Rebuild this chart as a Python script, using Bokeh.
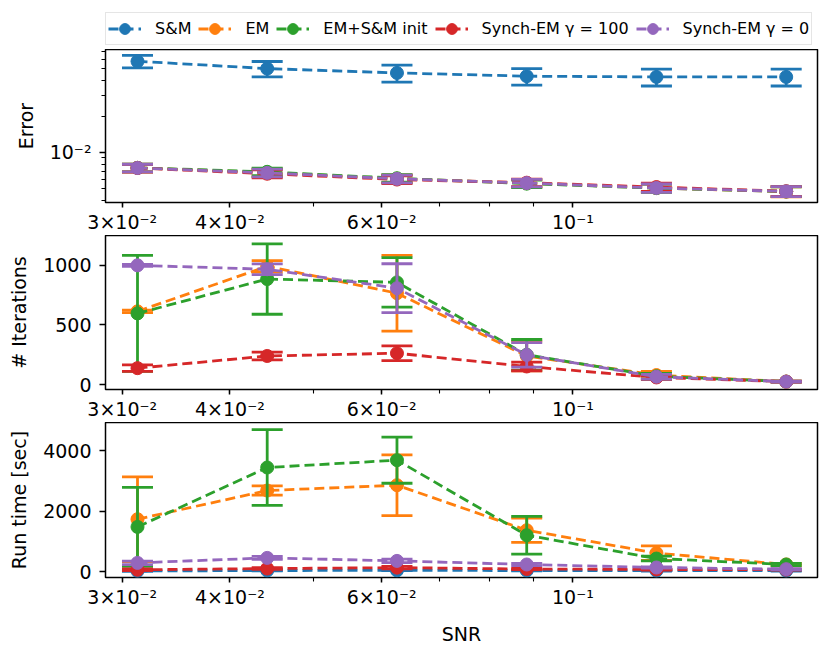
from bokeh.plotting import figure
from bokeh.models import Range1d, FixedTicker, Legend, LegendItem, ColumnDataSource
from bokeh.layouts import column
from bokeh.embed import file_html
from bokeh.resources import INLINE

# ---------------- data ----------------
snr = [0.03125, 0.04419, 0.0625, 0.08839, 0.125, 0.17678]

series_names = ["S&M", "EM", "EM+S&M init", "Synch-EM γ = 100", "Synch-EM γ = 0"]
series_colors = ["#1f77b4", "#ff7f0e", "#2ca02c", "#d62728", "#9467bd"]

# Error panel (log scale)
error_sm = [0.0575, 0.0500, 0.0460, 0.0432, 0.0426, 0.0426]
error_sm_std = [0.0069, 0.0073, 0.0074, 0.0068, 0.0068, 0.0068]
error_em = [0.00745, 0.00680, 0.00605, 0.00555, 0.00505, 0.00472]
error_em_std = [0.00055, 0.00050, 0.00045, 0.00040, 0.00040, 0.00045]
error_emsm = [0.00745, 0.00690, 0.00610, 0.00550, 0.00505, 0.00473]
error_emsm_std = [0.00055, 0.00050, 0.00045, 0.00040, 0.00040, 0.00045]
error_sy100 = [0.00742, 0.00665, 0.00595, 0.00560, 0.00515, 0.00475]
error_sy100_std = [0.00055, 0.00050, 0.00045, 0.00040, 0.00040, 0.00045]
error_sy0 = [0.00743, 0.00676, 0.00603, 0.00556, 0.00506, 0.00474]
error_sy0_std = [0.00055, 0.00050, 0.00045, 0.00040, 0.00040, 0.00045]

# Iterations panel
iter_em = [614, 992, 766, 240, 80, 25]
iter_em_std = [10, 48, 318, 125, 30, 5]
iter_emsm = [597, 885, 857, 250, 70, 25]
iter_emsm_std = [486, 295, 208, 128, 25, 5]
iter_sy100 = [138, 240, 263, 152, 60, 25]
iter_sy100_std = [27, 33, 62, 36, 15, 5]
iter_sy0 = [1000, 967, 808, 249, 66, 25]
iter_sy0_std = [8, 45, 205, 103, 20, 5]

# Run time panel
time_sm = [30, 45, 50, 45, 40, 40]
time_sm_std = [10, 10, 10, 10, 10, 10]
time_em = [1737, 2683, 2858, 1374, 620, 244]
time_em_std = [1395, 155, 1000, 400, 240, 40]
time_emsm = [1484, 3442, 3683, 1209, 440, 244]
time_emsm_std = [1300, 1250, 760, 620, 80, 40]
time_sy100 = [70, 110, 140, 95, 80, 75]
time_sy100_std = [30, 30, 40, 20, 20, 15]
time_sy0 = [297, 462, 363, 244, 145, 89]
time_sy0_std = [60, 50, 60, 40, 20, 15]

x_ticks = [0.03, 0.04, 0.06, 0.1]
x_tick_labels = ["3×10⁻²", "4×10⁻²", "6×10⁻²", "10⁻¹"]
x_minor = [0.03, 0.04, 0.05, 0.06, 0.07, 0.08, 0.09, 0.1]

err_ticks = [0.01]
err_tick_labels = ["10⁻²"]
err_minor = [0.004, 0.005, 0.006, 0.007, 0.008, 0.009, 0.01, 0.02, 0.03, 0.04, 0.05, 0.06, 0.07]
iter_ticks = [0, 500, 1000]
time_ticks = [0, 2000, 4000]

FONT = "DejaVu Sans"
LW = 2.8
DASH = "10 5"


def style(p, ylabel, show_xlabel=False):
    p.xgrid.visible = False
    p.ygrid.visible = False
    p.outline_line_color = "black"
    p.outline_line_width = 1.5
    p.background_fill_color = "white"
    p.border_fill_color = "white"
    for ax in (p.xaxis[0], p.yaxis[0]):
        ax.axis_line_color = None
        ax.major_tick_line_color = "black"
        ax.major_tick_line_width = 1.5
        ax.minor_tick_line_color = "black"
        ax.minor_tick_line_width = 1.1
        ax.major_tick_in = 0
        ax.major_tick_out = 6
        ax.minor_tick_in = 0
        ax.minor_tick_out = 4
        ax.major_label_text_font = FONT
        ax.major_label_text_font_size = "19px"
        ax.major_label_text_color = "black"
        ax.axis_label_text_font = FONT
        ax.axis_label_text_font_size = "19px"
        ax.axis_label_text_font_style = "normal"
        ax.axis_label_text_color = "black"
    p.xaxis[0].ticker = FixedTicker(ticks=x_ticks, minor_ticks=x_minor)
    p.xaxis[0].major_label_overrides = {t: l for t, l in zip(x_ticks, x_tick_labels)}
    p.xaxis[0].major_label_standoff = 3
    p.xaxis[0].major_tick_out = 5
    p.yaxis[0].major_label_standoff = 8
    p.yaxis[0].axis_label = ylabel
    p.yaxis[0].axis_label_standoff = 10
    if show_xlabel:
        p.xaxis[0].axis_label = "SNR"
        p.xaxis[0].axis_label_standoff = 12


def add_series(p, y, e, color):
    lo = [a - b for a, b in zip(y, e)]
    hi = [a + b for a, b in zip(y, e)]
    src = ColumnDataSource(dict(x=snr, y=y, lo=lo, hi=hi))
    p.segment(x0="x", y0="lo", x1="x", y1="hi", source=src, line_color=color, line_width=LW)
    p.scatter("x", "lo", source=src, marker="dash", size=31, line_color=color, line_width=LW)
    p.scatter("x", "hi", source=src, marker="dash", size=31, line_color=color, line_width=LW)
    p.line("x", "y", source=src, line_color=color, line_width=LW, line_dash=DASH)
    p.scatter("x", "y", source=src, size=13, fill_color=color, line_color=color)


x_range = Range1d(0.02869, 0.1922)

FRAME_W = 712
LEFT = 105
RIGHT = 4
common = dict(width=LEFT + FRAME_W + RIGHT, min_border_left=LEFT, min_border_right=RIGHT,
              sizing_mode="fixed", output_backend="svg", toolbar_location=None)

error_data = [(error_sm, error_sm_std), (error_em, error_em_std), (error_emsm, error_emsm_std),
              (error_sy100, error_sy100_std), (error_sy0, error_sy0_std)]

# ---- legend strip (hidden copies of the series provide the legend glyphs) ----
p0 = figure(height=49, min_border_top=0, min_border_bottom=0,
            x_axis_type="log", y_axis_type="log", x_range=x_range,
            y_range=Range1d(0.00383, 0.0721), **common)
p0.axis.visible = False
p0.xgrid.visible = False
p0.ygrid.visible = False
p0.outline_line_color = None
p0.background_fill_color = "white"
p0.border_fill_color = "white"
items = []
for name, (y, e), c in zip(series_names, error_data, series_colors):
    src = ColumnDataSource(dict(x=snr, y=y))
    r_line = p0.line("x", "y", source=src, line_color=c, line_width=LW, line_dash=DASH, visible=False)
    r_mark = p0.scatter("x", "y", source=src, size=13, fill_color=c, line_color=c, visible=False)
    items.append(LegendItem(label=name, renderers=[r_line, r_mark]))
legend = Legend(items=items, orientation="horizontal", location=(0, 4))
legend.label_text_font = FONT
legend.label_text_font_size = "16px"
legend.label_text_color = "black"
legend.glyph_width = 33
legend.glyph_height = 27
legend.label_standoff = 14
legend.spacing = 7
legend.padding = 2
legend.margin = 0
legend.border_line_color = "#cccccc"
legend.border_line_width = 1.4
legend.background_fill_alpha = 0.8
legend.inactive_fill_alpha = 0.0
legend.click_policy = "none"
p0.add_layout(legend, "center")

# ---- panel 1: Error ----
FH1, BOT1 = 155, 31
p1 = figure(height=FH1 + BOT1, min_border_top=0, min_border_bottom=BOT1,
            x_axis_type="log", y_axis_type="log", x_range=x_range,
            y_range=Range1d(0.00383, 0.0721), **common)
style(p1, "Error")
p1.yaxis[0].ticker = FixedTicker(ticks=err_ticks, minor_ticks=err_minor)
p1.yaxis[0].major_label_overrides = {t: l for t, l in zip(err_ticks, err_tick_labels)}
for (y, e), c in zip(error_data, series_colors):
    add_series(p1, y, e, c)

# ---- panel 2: Iterations ----
FH2, BOT2 = 156, 31
p2 = figure(height=FH2 + BOT2, min_border_top=0, min_border_bottom=BOT2,
            x_axis_type="log", x_range=x_range, y_range=Range1d(-41, 1250), **common)
style(p2, "# Iterations")
p2.yaxis[0].ticker = FixedTicker(ticks=iter_ticks, minor_ticks=[])
iter_data = [(iter_em, iter_em_std), (iter_emsm, iter_emsm_std),
             (iter_sy100, iter_sy100_std), (iter_sy0, iter_sy0_std)]
for (y, e), c in zip(iter_data, series_colors[1:]):
    add_series(p2, y, e, c)

# ---- panel 3: Run time ----
FH3, BOT3 = 155, 70
p3 = figure(height=FH3 + BOT3, min_border_top=0, min_border_bottom=BOT3,
            x_axis_type="log", x_range=x_range, y_range=Range1d(-185, 4926), **common)
style(p3, "Run time [sec]", show_xlabel=True)
p3.yaxis[0].ticker = FixedTicker(ticks=time_ticks, minor_ticks=[])
time_data = [(time_sm, time_sm_std), (time_em, time_em_std), (time_emsm, time_emsm_std),
             (time_sy100, time_sy100_std), (time_sy0, time_sy0_std)]
for (y, e), c in zip(time_data, series_colors):
    add_series(p3, y, e, c)

layout = column(p0, p1, p2, p3, spacing=0, sizing_mode="fixed")
open("out.html", "w").write(file_html(layout, INLINE))
